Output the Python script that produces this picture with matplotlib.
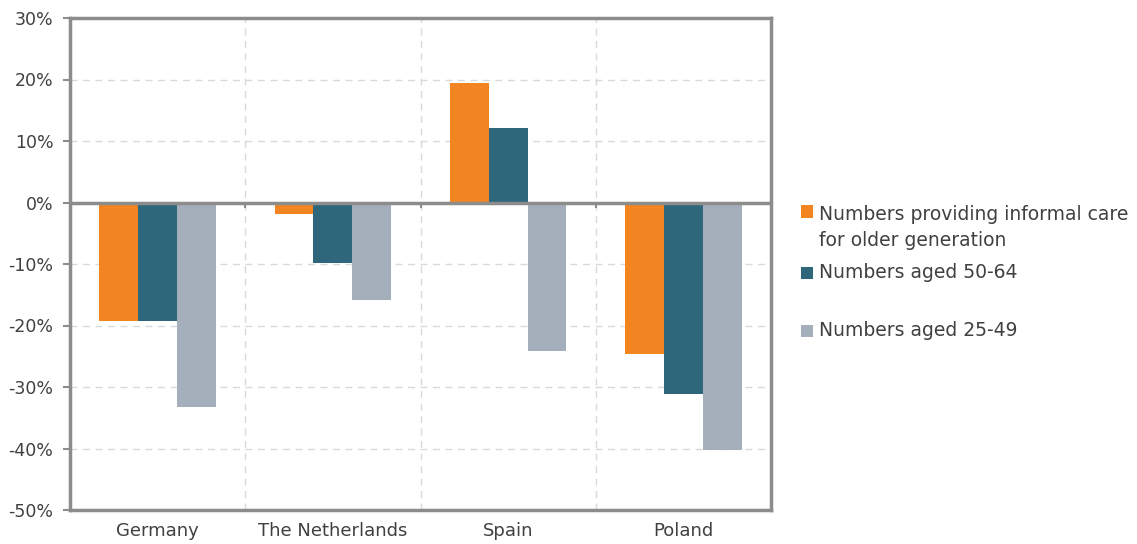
import matplotlib
matplotlib.use("Agg")
import matplotlib.pyplot as plt
import numpy as np
from matplotlib.patches import Patch
from matplotlib.offsetbox import HPacker

plt.rcParams['font.family'] = ['DejaVu Sans']

categories = ["Germany", "The Netherlands", "Spain", "Poland"]
series_names = ["Numbers providing informal care\nfor older generation",
                "Numbers aged 50-64",
                "Numbers aged 25-49"]
care = [-19.2, -1.8, 19.4, -24.7]
aged_50_64 = [-19.3, -9.9, 12.1, -31.1]
aged_25_49 = [-33.3, -15.8, -24.1, -40.3]
yticks = [-50, -40, -30, -20, -10, 0, 10, 20, 30]

colors = ["#F28522", "#2E677C", "#A5AFBC"]
spine_c = "#8C8C8C"
text_c = "#404040"

fig = plt.figure(figsize=(11.37, 5.44), dpi=100)
ax = fig.add_axes([70/1137, 34/544, (771-70)/1137, (510-18)/544])

x = np.arange(len(categories))
w = 0.222
for i, (vals, c) in enumerate(zip([care, aged_50_64, aged_25_49], colors)):
    ax.bar(x + (i - 1) * w, vals, width=w, color=c, zorder=3)

ax.set_xlim(-0.5, 3.5)
ax.set_ylim(-50, 30)
ax.set_yticks(yticks)
ax.set_yticklabels([f"{t}%" for t in yticks], fontsize=12.5, color=text_c)
ax.set_xticks(x)
ax.set_xticklabels(categories, fontsize=13, color=text_c)
ax.tick_params(axis='x', length=0, pad=9)
ax.tick_params(axis='y', length=5, width=1.5, color=spine_c, pad=7)

for yv in yticks[1:-1]:
    if yv != 0:
        ax.axhline(yv, color="#D9D9D9", lw=1, ls=(0, (5, 4)), zorder=1)
for xb in [0.5, 1.5, 2.5]:
    ax.axvline(xb, color="#D9D9D9", lw=1, ls=(0, (5, 4)), zorder=1)
    ax.vlines(xb, -0.9, 0, color=spine_c, lw=1.5, zorder=4)
ax.axhline(0, color=spine_c, lw=2.5, zorder=4)

for s in ax.spines.values():
    s.set_color(spine_c)
    s.set_linewidth(2.5)

legend_y = [205, 273, 331]
for name, c, yp in zip(series_names, colors, legend_y):
    multi = "\n" in name
    lg = fig.legend(handles=[Patch(facecolor=c, edgecolor='none')], labels=[name],
                    loc='upper left' if multi else 'center left',
                    bbox_to_anchor=(801/1137, 1 - yp/544),
                    frameon=False, fontsize=13.5, handlelength=0.65, handleheight=0.65,
                    handletextpad=0.3, borderpad=0, borderaxespad=0)
    for t in lg.get_texts():
        t.set_color(text_c)
        t.set_linespacing(1.45)
    for child in lg.findobj(HPacker):
        child.align = "top" if multi else "center"
        if multi:
            child.get_children()[0].set_offset((0, -3))

fig.savefig("out.png", dpi=100)
